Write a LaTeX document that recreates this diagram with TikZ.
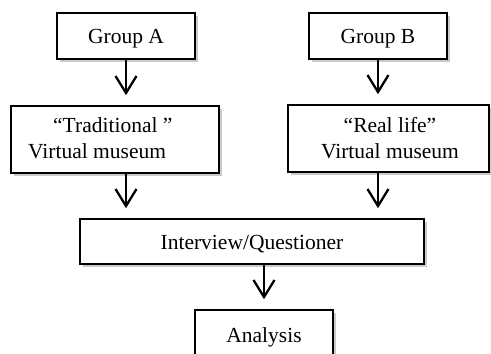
\documentclass[tikz,border=0pt]{standalone}
\usepackage{fontspec}
\setmainfont{Liberation Serif}
\usetikzlibrary{arrows.meta,shadows}
\begin{document}
\begin{tikzpicture}[x=1pt,y=-1pt,
  box/.style={draw=black,line width=1.6pt,fill=white,inner sep=0pt,
    drop shadow={shadow xshift=2.5pt,shadow yshift=-2.5pt,opacity=0.35,fill=black!60}},
  lbl/.style={inner sep=0pt,font=\fontsize{21.5}{26}\selectfont},
  flow/.style={line width=2.3pt,-{Straight Barb[length=17pt,width=21pt,line width=2.3pt]},shorten >=10pt}
]
\useasboundingbox (0,0) rectangle (491,354);
% boxes
\node[box,minimum width=138pt,minimum height=46pt] (ga) at (126,36) {};
\node[box,minimum width=138pt,minimum height=46pt] (gb) at (378,36) {};
\node[box,minimum width=208pt,minimum height=67pt] (ta) at (115,139.5) {};
\node[box,minimum width=201pt,minimum height=67pt] (rb) at (388.5,138.5) {};
\node[box,minimum width=344pt,minimum height=45pt] (iq) at (252,241.5) {};
\node[box,minimum width=138pt,minimum height=46pt] (an) at (264,333) {};
% texts
\node[lbl,anchor=base] (gat) at (126,43) {Group A};
\node[lbl,anchor=base] (gbt) at (378,43) {Group B};
\node[lbl,anchor=base west] (ta1) at (53,132) {“Traditional ”};
\node[lbl,anchor=base west] (ta2) at (28,158) {Virtual museum};
\node[lbl,anchor=base] (rb1) at (390,132) {“Real life”};
\node[lbl,anchor=base] (rb2) at (390,158) {Virtual museum};
\node[lbl,anchor=base] (iqt) at (252,249) {Interview/Questioner};
\node[lbl,anchor=base] (ant) at (264,342) {Analysis};
% arrows
\draw[flow] (ga.south) -- (ga.south |- ta.north);
\draw[flow] (gb.south) -- (gb.south |- rb.north);
\draw[flow] (ta.south -| ga.south) -- (iq.north -| ga.south);
\draw[flow] (rb.south -| gb.south) -- (iq.north -| gb.south);
\draw[flow] (iq.south -| an.north) -- (an.north);
\end{tikzpicture}
\end{document}
